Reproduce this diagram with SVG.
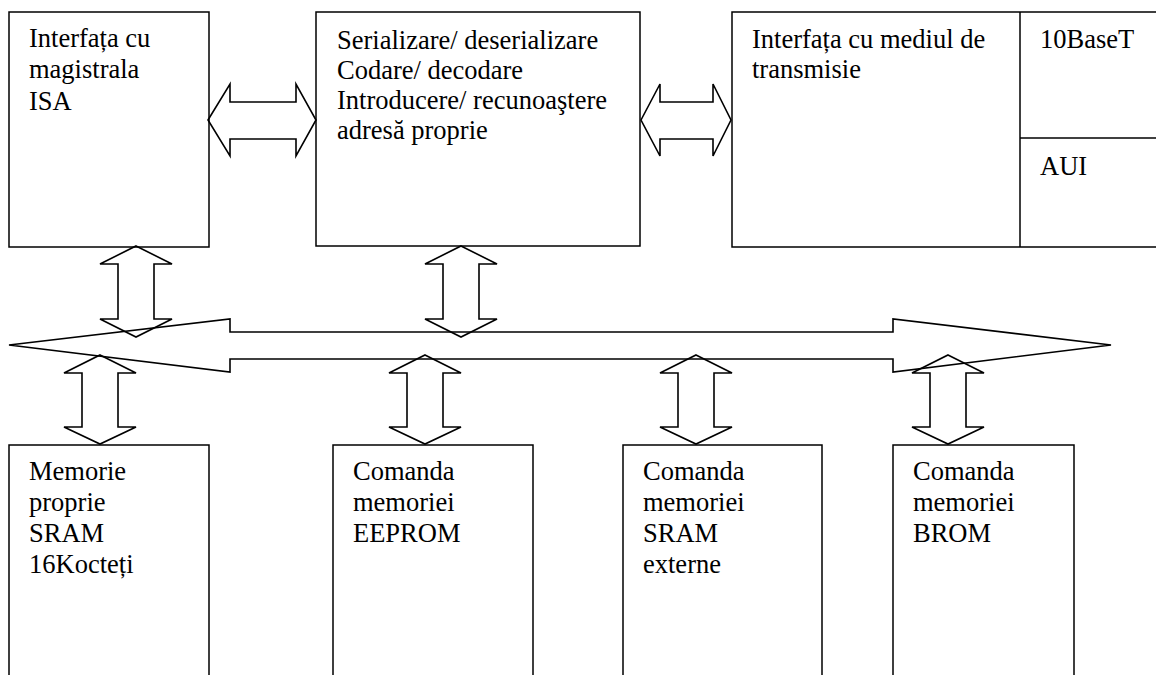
<svg xmlns="http://www.w3.org/2000/svg" width="1156" height="675" viewBox="0 0 1156 675">
  <style>
    .box { fill: none; stroke: #000; stroke-width: 1.5; }
    .arrow { fill: none; stroke: #000; stroke-width: 1.6; stroke-linejoin: miter; }
    .lbl { font-family: "Liberation Serif", "Times New Roman", serif; font-size: 26.5px; fill: #000; }
  </style>
  <rect width="1156" height="675" fill="#fff"/>

  <!-- connectors: block arrows and the shared bus -->
  <g id="connectors">
    <!-- ISA interface <-> serializer -->
    <polygon class="arrow" points="208,120 230,84 230,102 296,102 296,84 316,120 296,156 296,139 230,139 230,156"/>
    <!-- serializer <-> medium interface -->
    <polygon class="arrow" points="641,120 660,84 660,102 713,102 713,84 731,120 713,156 713,139 660,139 660,156"/>
    <!-- internal bus -->
    <polygon class="arrow" points="9,345 230,319 230,332 893,332 893,319 1111,345 893,372 893,359 230,359 230,372"/>
    <!-- top blocks <-> bus -->
    <polygon class="arrow" points="136,246 172,264 154,264 154,319 172,319 136,337 100,319 118,319 118,264 100,264"/>
    <polygon class="arrow" points="461,246 497,264 479,264 479,319 497,319 461,337 425,319 443,319 443,264 425,264"/>
    <!-- bus <-> bottom blocks -->
    <polygon class="arrow" points="100,355 136,373 118,373 118,427 136,427 100,444 64,427 82,427 82,373 64,373"/>
    <polygon class="arrow" points="425,355 461,373 443,373 443,427 461,427 425,444 389,427 407,427 407,373 389,373"/>
    <polygon class="arrow" points="696,355 732,373 714,373 714,427 732,427 696,444 660,427 678,427 678,373 660,373"/>
    <polygon class="arrow" points="948,355 984,373 966,373 966,427 984,427 948,444 912,427 930,427 930,373 912,373"/>
  </g>

  <g id="isa-interface">
    <rect class="box" x="9" y="12" width="200" height="235"/>
    <text class="lbl" x="29" y="47">Interfața cu</text>
    <text class="lbl" x="29" y="78">magistrala</text>
    <text class="lbl" x="29" y="110">ISA</text>
  </g>

  <g id="serializer">
    <rect class="box" x="316" y="12" width="324" height="234"/>
    <text class="lbl" x="337" y="48.5">Serializare/ deserializare</text>
    <text class="lbl" x="337" y="78.5">Codare/ decodare</text>
    <text class="lbl" x="337" y="109">Introducere/ recunoaştere</text>
    <text class="lbl" x="337" y="139">adresă proprie</text>
  </g>

  <g id="medium-interface">
    <path class="box" d="M1160,12 H732 V247 H1160"/>
    <line class="box" x1="1020" y1="12" x2="1020" y2="247"/>
    <line class="box" x1="1020" y1="138" x2="1160" y2="138"/>
    <text class="lbl" x="752" y="48">Interfața cu mediul de</text>
    <text class="lbl" x="752" y="78">transmisie</text>
  </g>

  <g id="port-10baset">
    <text class="lbl" x="1040" y="48">10BaseT</text>
  </g>

  <g id="port-aui">
    <text class="lbl" x="1040" y="175">AUI</text>
  </g>

  <g id="sram-local">
    <path class="box" d="M9,680 V445 H209 V680"/>
    <text class="lbl" x="29" y="480">Memorie</text>
    <text class="lbl" x="29" y="511">proprie</text>
    <text class="lbl" x="29" y="542">SRAM</text>
    <text class="lbl" x="29" y="573">16Kocteți</text>
  </g>

  <g id="eeprom-ctrl">
    <path class="box" d="M333,680 V445 H533 V680"/>
    <text class="lbl" x="353" y="480">Comanda</text>
    <text class="lbl" x="353" y="511">memoriei</text>
    <text class="lbl" x="353" y="542">EEPROM</text>
  </g>

  <g id="sram-ext-ctrl">
    <path class="box" d="M623,680 V445 H822 V680"/>
    <text class="lbl" x="643" y="480">Comanda</text>
    <text class="lbl" x="643" y="511">memoriei</text>
    <text class="lbl" x="643" y="542">SRAM</text>
    <text class="lbl" x="643" y="573">externe</text>
  </g>

  <g id="brom-ctrl">
    <path class="box" d="M893,680 V445 H1074 V680"/>
    <text class="lbl" x="913" y="480">Comanda</text>
    <text class="lbl" x="913" y="511">memoriei</text>
    <text class="lbl" x="913" y="542">BROM</text>
  </g>
</svg>
